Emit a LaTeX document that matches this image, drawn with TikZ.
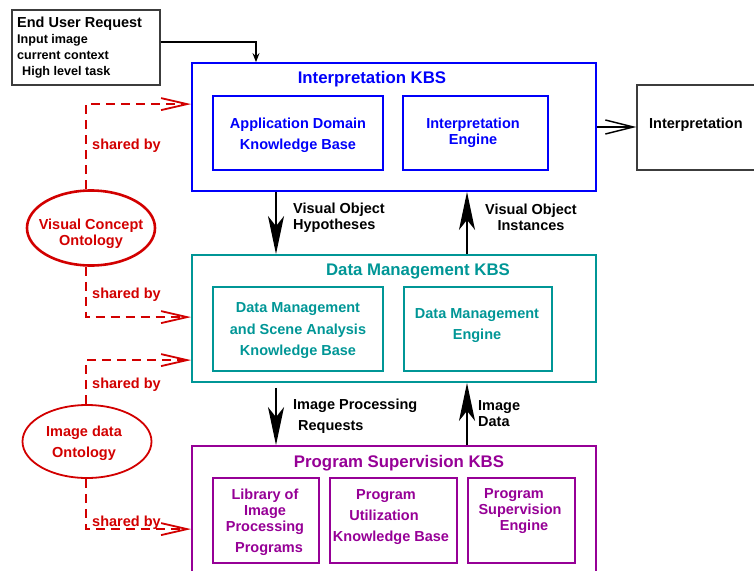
\documentclass[tikz,border=0pt]{standalone}
\usepackage{fontspec}
\setmainfont{Liberation Sans}
\usetikzlibrary{arrows.meta,shapes.geometric}

\definecolor{kbsblue}{RGB}{0,0,250}
\definecolor{kbsteal}{RGB}{0,150,150}
\definecolor{kbspurple}{RGB}{150,0,150}
\definecolor{ontored}{RGB}{210,0,0}
\definecolor{framegray}{RGB}{60,60,60}

\tikzset{
  txt/.style={font=\fontsize{14.5}{16}\selectfont\bfseries, inner sep=0pt, yshift=-1.5pt},
  title/.style={font=\fontsize{16.8}{18}\selectfont\bfseries, inner sep=0pt, yshift=-1pt},
  boxshape/.style={draw, rectangle, inner sep=0pt},
  outerbox/.style={boxshape, line width=1.8pt},
  innerbox/.style={boxshape, line width=1.8pt},
  plainbox/.style={boxshape, draw=framegray, line width=1.1pt, fill=white},
  onto/.style={draw=ontored, ellipse, inner sep=0pt},
  flow/.style={line width=1.8pt, -{Stealth[length=38pt,width=16pt,inset=10pt]}},
  shared/.style={draw=ontored, line width=1.8pt, dash pattern=on 9pt off 6pt,
                 -{Straight Barb[length=26pt,width=12pt]}},
  sharedlbl/.style={txt, text=ontored, anchor=west}
}

\begin{document}
\begin{tikzpicture}[x=1pt,y=-1pt]
\useasboundingbox (0,0) rectangle (754,570);

% ---- request and result boxes
\node[plainbox, minimum width=148pt, minimum height=75pt] (eur) at (86,47.5) {};
\node[txt, align=left, anchor=north west, font=\fontsize{12.6}{16}\selectfont\bfseries]
  (eurt) at (17,15)
  {{\fontsize{14.5}{16}\selectfont End User Request}\\Input image\\current context\\\hspace*{5pt}High level task};

\node[plainbox, minimum width=133pt, minimum height=85pt] (interp) at (703.5,127.5) {};
\node[txt, anchor=west] (interpt) at (649,123) {Interpretation};

% ---- Interpretation KBS
\node[outerbox, draw=kbsblue, minimum width=404pt, minimum height=128pt] (ikbs) at (394,127) {};
\node[title, text=kbsblue] (ikbst) at (372,78) {Interpretation KBS};
\node[innerbox, draw=kbsblue, minimum width=170pt, minimum height=74pt] (adkb) at (298,133) {};
\node[txt, text=kbsblue, align=center] (adkbt) at (298,133.5) {Application Domain\\[5pt]Knowledge Base};
\node[innerbox, draw=kbsblue, minimum width=145pt, minimum height=74pt] (ieng) at (475.5,133) {};
\node[txt, text=kbsblue, align=center] (iengt) at (473,131) {Interpretation\\Engine};

% ---- Data Management KBS
\node[outerbox, draw=kbsteal, minimum width=404pt, minimum height=127pt] (dmkbs) at (394,318.5) {};
\node[title, text=kbsteal] (dmkbst) at (418,270) {Data Management KBS};
\node[boxshape, draw=kbsteal, line width=2.8pt, minimum width=170pt, minimum height=84pt] (dmsakb) at (298,329) {};
\node[txt, text=kbsteal, align=center] (dmsakbt) at (298,329.5)
  {Data Management\\[5.5pt]and Scene Analysis\\[5.5pt]Knowledge Base};
\node[innerbox, draw=kbsteal, minimum width=148pt, minimum height=84pt] (dmeng) at (478,329) {};
\node[txt, text=kbsteal, align=center] (dmengt) at (477,324.5) {Data Management\\[5pt]Engine};

% ---- Program Supervision KBS
\node[outerbox, draw=kbspurple, minimum width=404pt, minimum height=134pt] (pskbs) at (394,513) {};
\node[title, text=kbspurple] (pskbst) at (399,462) {Program Supervision KBS};
\node[innerbox, draw=kbspurple, minimum width=106pt, minimum height=85pt] (lib) at (266,520.5) {};
\node[txt, text=kbspurple, align=center] (libt) at (265,520.5)
  {Library of\\Image\\Processing\\[5pt]\hspace*{8pt}Programs};
\node[innerbox, draw=kbspurple, minimum width=127pt, minimum height=85pt] (pukb) at (393.5,520.5) {};
\node[txt, text=kbspurple, align=center] (pukbt) at (391,515.5)
  {\hspace*{-10pt}Program\\[5pt]\hspace*{-14pt}Utilization\\[5pt]Knowledge Base};
\node[innerbox, draw=kbspurple, minimum width=107pt, minimum height=85pt] (pse) at (521.5,520.5) {};
\node[txt, text=kbspurple, align=center] (pset) at (520,510)
  {\hspace*{-12pt}Program\\Supervision\\\hspace*{8pt}Engine};

% ---- ontologies
\node[onto, line width=2.6pt, minimum width=128pt, minimum height=75pt] (vco) at (91,228) {};
\node[txt, text=ontored, align=center] (vcot) at (91,232) {Visual Concept\\Ontology};
\node[onto, line width=1.8pt, minimum width=129pt, minimum height=73pt] (ido) at (87,441.5) {};
\node[txt, text=ontored, align=center] (idot) at (84,441.5) {Image data\\[5pt]Ontology};

% ---- request arrow
\draw[line width=1.3pt, -{Stealth[length=9pt,width=7pt,inset=3pt]}]
  ([yshift=5.5pt]eur.east) -| ([xshift=-138pt]ikbs.north);

% ---- result arrow
\draw[line width=1.5pt, -{Straight Barb[length=28pt,width=14pt]}] (ikbs.east) -- (ikbs.east -| interp.west);

% ---- flows between the KBS levels
\draw[flow] ([xshift=-118pt]ikbs.south) -- ([xshift=-118pt]dmkbs.north);
\draw[flow] ([xshift=73pt]dmkbs.north) -- ([xshift=73pt]ikbs.south);
\draw[flow] ([xshift=-118pt,yshift=-5pt]dmkbs.south) -- ([xshift=-118pt]pskbs.north);
\draw[flow] ([xshift=73pt]pskbs.north) -- ([xshift=73pt]dmkbs.south);

\node[txt, align=left, anchor=west] (hyp) at (293,216) {Visual Object\\Hypotheses};
\node[txt, align=center] (inst) at (531,216) {Visual Object\\Instances};
\node[txt, align=left, anchor=west] (ipr) at (293,414.5) {Image Processing\\[5pt]\hspace*{5pt}Requests};
\node[txt, align=left, anchor=west] (idat) at (478,412) {Image\\Data};

% ---- ontology sharing
\draw[shared] ([xshift=-5pt]vco.north) |- ([yshift=-42pt]ikbs.north west);
\draw[shared] ([xshift=-5pt]vco.south) |- ([yshift=-63pt]dmkbs.north west);
\draw[shared] ([xshift=-1pt]ido.north) |- ([yshift=-106pt]dmkbs.north west);
\draw[shared] ([xshift=-1pt]ido.south) |- ([yshift=-84pt]pskbs.north west);

\node[sharedlbl] (sh1) at (92,144) {shared by};
\node[sharedlbl] (sh2) at (92,293) {shared by};
\node[sharedlbl] (sh3) at (92,383) {shared by};
\node[sharedlbl] (sh4) at (92,521) {shared by};
\end{tikzpicture}
\end{document}
